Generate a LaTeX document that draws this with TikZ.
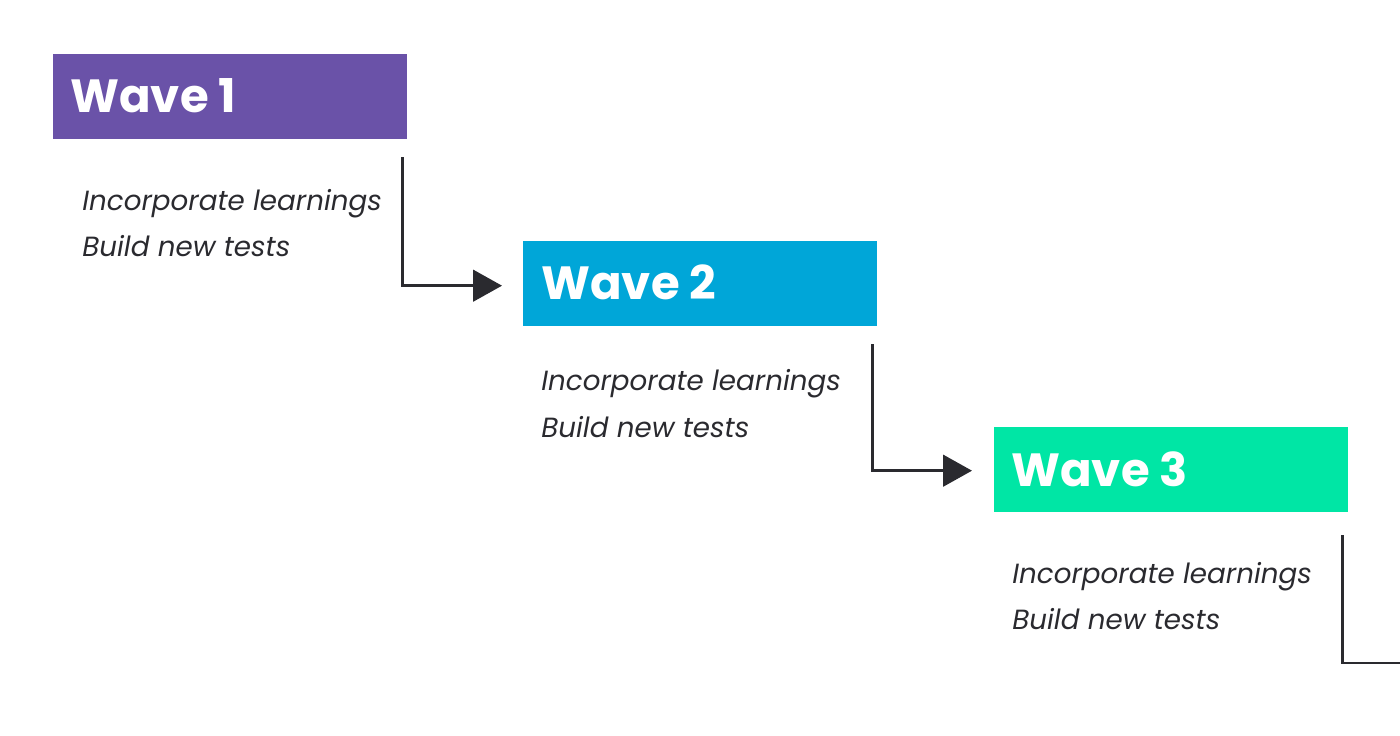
\documentclass[tikz,border=0pt]{standalone}
\usepackage{fontspec}
\setmainfont{Poppins}
\usetikzlibrary{arrows.meta,calc}
\definecolor{wpurple}{HTML}{6A52A8}
\definecolor{wblue}{HTML}{00A6D8}
\definecolor{wgreen}{HTML}{00E6A5}
\definecolor{wdark}{HTML}{2A2A2F}
\tikzset{
  wave/.style={rectangle, inner sep=0pt, minimum width=355*0.5669pt, minimum height=85*0.5669pt, anchor=north west},
  wavetext/.style={text=white, font=\fontsize{26.5}{30}\selectfont\bfseries, inner sep=0pt, anchor=base west},
  note/.style={text=wdark, font=\fontsize{15.8}{20}\selectfont\itshape, inner sep=0pt, anchor=base west},
  flow/.style={draw=wdark, line width=1.6pt},
  flowarrow/.style={flow, -{Triangle[length=16.5pt, width=18pt]}}
}
\begin{document}
\begin{tikzpicture}[x=0.02cm, y=-0.02cm]
\useasboundingbox (0,0) rectangle (1400,735);
% boxes
\node[wave, fill=wpurple] (w1) at (53,54) {};
\node[wave, fill=wblue] (w2) at (523,241) {};
\node[wave, fill=wgreen] (w3) at (994,427) {};
% titles
\node[wavetext] (t1) at (70,112) {Wave 1};
\node[wavetext] (t2) at (541,299) {Wave 2};
\node[wavetext] (t3) at (1011,486) {Wave 3};
% notes
\node[note] (a1) at (82,210) {Incorporate learnings};
\node[note] (b1) at (82,256) {Build new tests};
\node[note] (a2) at (541,390) {Incorporate learnings};
\node[note] (b2) at (541,437) {Build new tests};
\node[note] (a3) at (1012,583) {Incorporate learnings};
\node[note] (b3) at (1012,629) {Build new tests};
% connectors
\coordinate (s1) at ($(w1.south east)+(-5,18)$);
\coordinate (e1) at ($(w2.west)+(-21,2)$);
\coordinate (s2) at ($(w2.south east)+(-5,18)$);
\coordinate (e2) at ($(w3.west)+(-22,1)$);
\coordinate (s3) at ($(w3.south east)+(-6,23)$);
\coordinate (e3) at (1400,663);
\draw[flowarrow] (s1) |- (e1);
\draw[flowarrow] (s2) |- (e2);
\draw[flow] (s3) |- (e3);
\end{tikzpicture}
\end{document}
